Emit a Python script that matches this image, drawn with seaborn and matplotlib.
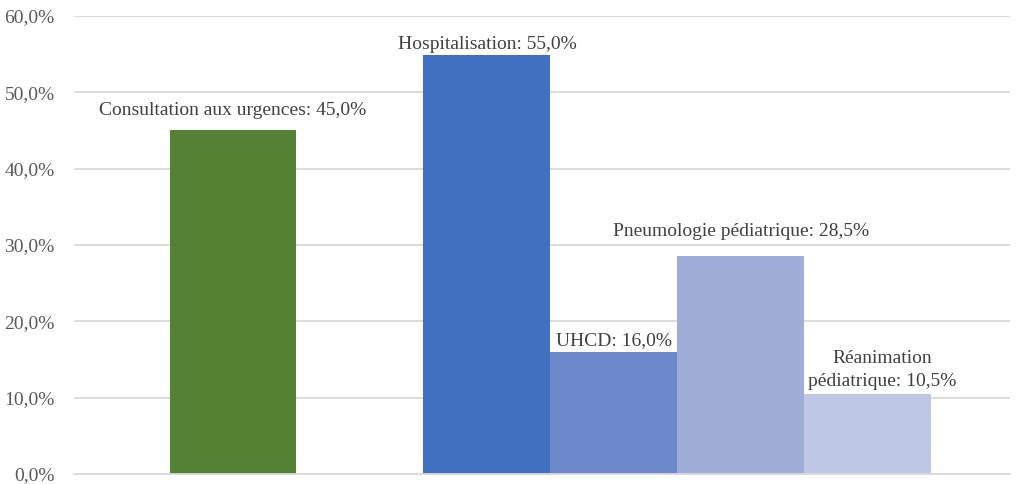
import matplotlib
matplotlib.use("Agg")
import matplotlib.pyplot as plt
import pandas as pd
import seaborn as sns
from matplotlib.ticker import FuncFormatter

# data
categories = ["Consultation aux urgences", "", "Hospitalisation", "UHCD",
              "Pneumologie pédiatrique", "Réanimation\npédiatrique"]
values = [45.0, None, 55.0, 16.0, 28.5, 10.5]
colors = ["#548235", "#ffffff", "#4270C0", "#6E89CB", "#9FAED8", "#BEC8E4"]

# label offsets above each bar top (points) and horizontal shifts
label_dy = [8, 0, 1, 2, 12, 3]
label_dx = [0, 0, 0, 0, 0, 10]

df = pd.DataFrame({"cat": categories, "val": values})

sns.set_style("white")
plt.rcParams["font.family"] = ["Liberation Serif", "DejaVu Serif"]

fig = plt.figure(figsize=(10.21, 4.84), dpi=100)
ax = fig.add_axes([0.0725, 0.0207, 0.9165, 0.9463])

sns.barplot(data=df, x="cat", y="val", hue="cat", order=categories,
            palette=dict(zip(categories, colors)), width=1.0, legend=False,
            saturation=1, linewidth=0, ax=ax)

ax.set_ylim(0, 60)
ax.set_xlim(-1.252, 6.118)
ax.set_yticks(range(0, 61, 10))
ax.yaxis.set_major_formatter(FuncFormatter(lambda v, _: f"{v:.1f}%".replace(".", ",")))
ax.tick_params(axis="y", labelsize=14, labelcolor="#595959", length=0, pad=14)
ax.set_xticks([])
ax.set_xlabel("")
ax.set_ylabel("")
ax.grid(axis="y", color="#D9D9D9", linewidth=1.3)
ax.set_axisbelow(True)
for side in ["left", "right", "top"]:
    ax.spines[side].set_visible(False)
ax.spines["bottom"].set_color("#D9D9D9")
ax.spines["bottom"].set_linewidth(1.3)

for i, (cat, val) in enumerate(zip(categories, values)):
    if val is None:
        continue
    txt = f"{cat}: {val:.1f}%".replace(".", ",")
    ax.annotate(txt, xy=(i, val), xytext=(label_dx[i], label_dy[i]),
                textcoords="offset points", ha="center", va="bottom",
                fontsize=14, color="#404040", linespacing=1.45,
                bbox=dict(boxstyle="square,pad=0.1", fc="white", ec="none"))

fig.savefig("out.png", dpi=100)
